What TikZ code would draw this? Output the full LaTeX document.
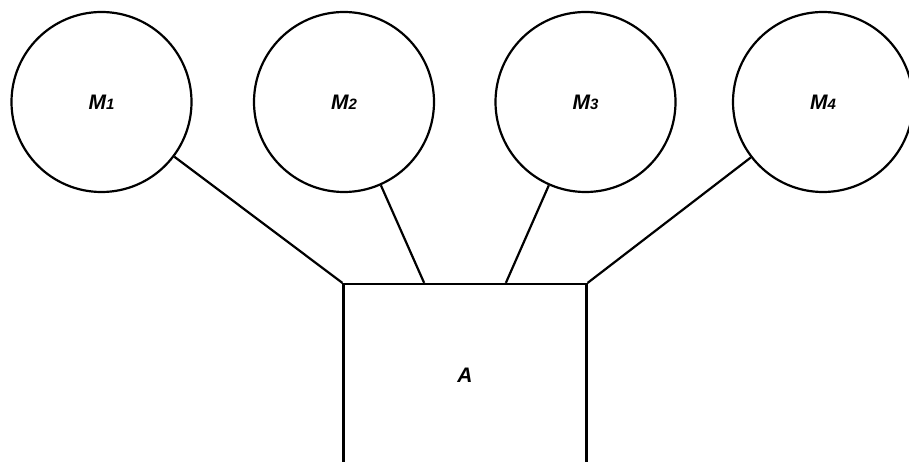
\documentclass[tikz,border=0pt]{standalone}
\usepackage{fontspec}
\setmainfont{Liberation Sans}
\usetikzlibrary{calc}
\tikzset{
  mcirc/.style={circle,draw,line width=2.2pt,minimum size=180pt,inner sep=0pt,
                font=\fontsize{21}{21}\selectfont\bfseries\itshape},
  abox/.style={rectangle,draw,line width=2.2pt,minimum width=243pt,minimum height=182pt,
               inner sep=0pt,font=\fontsize{21}{21}\selectfont\bfseries\itshape},
  link/.style={line width=2.2pt}
}
\newcommand{\mlabel}[1]{M{\fontsize{15}{15}\selectfont #1}}

\begin{document}
\begin{tikzpicture}[x=1pt,y=-1pt]
\useasboundingbox (0,0) rectangle (909,462);
\clip (0,0) rectangle (909,462);
% ---- modules
\node[mcirc] (M1) at (101.5,102) {\mlabel{1}};
\node[mcirc] (M2) at (344,102)   {\mlabel{2}};
\node[mcirc] (M3) at (585.5,102) {\mlabel{3}};
\node[mcirc] (M4) at (823,102)   {\mlabel{4}};

% ---- block
\node[abox] (A) at (465,375) {A};
\coordinate (a2) at ($(A.north west)!1/3!(A.north east)$);
\coordinate (a3) at ($(A.north west)!2/3!(A.north east)$);

% ---- links
\draw[link] (M1) -- (A.north west);
\draw[link] (M2) -- (a2);
\draw[link] (M3) -- (a3);
\draw[link] (M4) -- (A.north east);
\end{tikzpicture}
\end{document}
